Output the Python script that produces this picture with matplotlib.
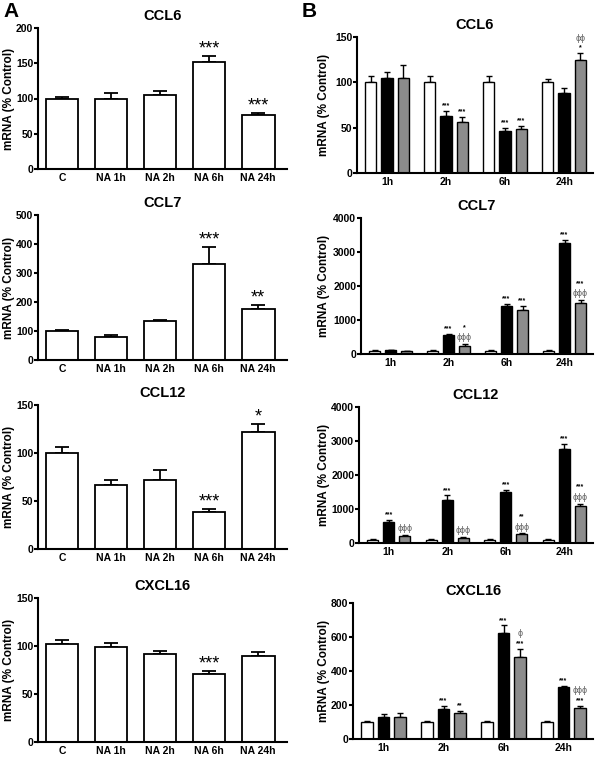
import numpy as np
import matplotlib
matplotlib.use('Agg')
import matplotlib.pyplot as plt

plt.rcParams['font.family'] = ['Liberation Sans', 'DejaVu Sans']
plt.rcParams['font.weight'] = 'bold'

# panel A: NA time course
a_labels = ['C', 'NA 1h', 'NA 2h', 'NA 6h', 'NA 24h']
a_titles = ['CCL6', 'CCL7', 'CCL12', 'CXCL16']
a_means = [[100, 99, 105, 152, 77],
           [100, 78, 133, 330, 177],
           [100, 67, 72, 39, 122],
           [102, 99, 92, 71, 90]]
a_errs = [[2, 9, 6, 8, 3],
          [5, 8, 4, 60, 13],
          [6, 5, 10, 3, 8],
          [4, 4, 3, 3, 4]]
a_stars = [['', '', '', '***', '***'],
           ['', '', '', '***', '**'],
           ['', '', '', '***', '*'],
           ['', '', '', '***', '']]
a_ymax = [200, 500, 150, 150]
a_ystep = [50, 100, 50, 50]

# panel B: three series per time point
b_labels = ['1h', '2h', '6h', '24h']
b_titles = ['CCL6', 'CCL7', 'CCL12', 'CXCL16']
b_white = [[100, 100, 100, 100], [100, 100, 100, 100],
           [100, 100, 100, 100], [100, 100, 100, 100]]
b_white_err = [[7, 7, 7, 4], [10, 10, 10, 10], [15, 15, 15, 15], [8, 6, 5, 8]]
b_black = [[105, 63, 46, 88], [110, 550, 1420, 3260],
           [630, 1255, 1500, 2765], [132, 175, 623, 305]]
b_black_err = [[6, 5, 4, 6], [20, 50, 50, 100],
               [60, 145, 70, 145], [13, 18, 45, 9]]
b_gray = [[105, 56, 48, 125], [75, 235, 1280, 1490],
          [196, 157, 275, 1100], [132, 153, 481, 185]]
b_gray_err = [[14, 6, 4, 7], [10, 60, 135, 100],
              [50, 28, 15, 60], [19, 12, 49, 11]]
b_black_ann = [['', '***', '***', ''], ['', '***', '***', '***'],
               ['***', '***', '***', '***'], ['', '***', '***', '***']]
b_gray_star = [['', '***', '***', '*'], ['', '*', '***', '***'],
               ['', '', '**', '***'], ['', '**', '***', '***']]
b_gray_phi = [['', '', '', 'ϕϕ'], ['', 'ϕϕϕ', '', 'ϕϕϕ'],
              ['ϕϕϕ', 'ϕϕϕ', 'ϕϕϕ', 'ϕϕϕ'], ['', '', 'ϕ', 'ϕϕϕ']]
# phi drawn above the stars (True) or below them (False)
b_phi_on_top = [True, False, False, True]
b_ymax = [150, 4000, 4000, 800]
b_ystep = [50, 1000, 1000, 200]

W, H = 600, 757
fig = plt.figure(figsize=(6, 7.57), dpi=100)


def box(x0, x1, y0, y1):
    return [x0 / W, 1 - y1 / H, (x1 - x0) / W, (y1 - y0) / H]


def style(ax, ymax, ystep, title, x0, x1, label_x):
    for s in ['top', 'right']:
        ax.spines[s].set_visible(False)
    for s in ['left', 'bottom']:
        ax.spines[s].set_linewidth(1.5)
    ax.set_ylim(0, ymax)
    ax.set_yticks(np.arange(0, ymax + 1, ystep))
    ax.tick_params(axis='y', length=3, width=1.5, labelsize=7.5, pad=0.5)
    ax.tick_params(axis='x', length=0, labelsize=7.5, pad=3)
    for lab in ax.get_yticklabels() + ax.get_xticklabels():
        lab.set_fontweight('bold')
    ax.set_title(title, fontsize=10.5, fontweight='bold', pad=6)
    ax.set_ylabel('mRNA (% Control)', fontsize=8.5, fontweight='bold')
    ax.yaxis.set_label_coords((label_x - x0) / (x1 - x0), 0.5)


a_rows = [(28, 169), (215, 360), (405, 549), (598, 742)]
for i in range(4):
    ax = fig.add_axes(box(38, 287, *a_rows[i]))
    x = np.arange(len(a_labels))
    ax.bar(x, a_means[i], width=0.67, color='white', edgecolor='black',
           linewidth=1.3, zorder=2)
    ax.errorbar(x, a_means[i], yerr=[np.zeros(5), a_errs[i]], fmt='none',
                ecolor='black', elinewidth=1.3, capsize=5, capthick=1.3, zorder=1)
    for j in range(5):
        if a_stars[i][j]:
            ax.text(x[j], a_means[i][j] + a_errs[i][j] - a_ymax[i] * 0.01,
                    a_stars[i][j], ha='center', va='bottom', fontsize=13,
                    fontweight='normal')
    ax.set_xlim(-0.49, 4.59)
    ax.set_xticks(x)
    ax.set_xticklabels(a_labels)
    style(ax, a_ymax[i], a_ystep[i], a_titles[i], 38, 287, 15)

b_rows = [(37, 173), (218, 354), (407, 543), (603, 739)]
b_left = [357, 361, 359, 353]
wb = 0.19
off = 0.275
for i in range(4):
    ax = fig.add_axes(box(b_left[i], 593, *b_rows[i]))
    x = np.arange(len(b_labels))
    z = np.zeros(4)
    series = [(b_white[i], b_white_err[i], 'white', -off),
              (b_black[i], b_black_err[i], 'black', 0),
              (b_gray[i], b_gray_err[i], '#8c8c8c', off)]
    for vals, errs, col, dx in series:
        ax.bar(x + dx, vals, width=wb, color=col, edgecolor='black',
               linewidth=1.0, zorder=2)
        ax.errorbar(x + dx, vals, yerr=[z, errs], fmt='none', ecolor='black',
                    elinewidth=1.0, capsize=2.5, capthick=1.0, zorder=1)
    ys = b_ymax[i] * 0.012
    for j in range(4):
        if b_black_ann[i][j]:
            ax.text(x[j], b_black[i][j] + b_black_err[i][j] + ys,
                    b_black_ann[i][j], ha='center', va='bottom', fontsize=5)
        top = b_gray[i][j] + b_gray_err[i][j] + ys
        star = b_gray_star[i][j]
        phi = b_gray_phi[i][j]
        order = [(phi, '#666666', 6.5), (star, 'black', 5)]
        if b_phi_on_top[i]:
            order = order[::-1]
        for txt, col, fs in order:
            if txt:
                ax.text(x[j] + off, top, txt, ha='center', va='bottom',
                        fontsize=fs, color=col, fontweight='normal' if col != 'black' else 'bold')
                top += b_ymax[i] * (0.065 if col == 'black' else 0.085)
    ax.set_xlim(-0.51, 3.49)
    ax.set_xticks(x)
    ax.set_xticklabels(b_labels)
    style(ax, b_ymax[i], b_ystep[i], b_titles[i], b_left[i], 593, 330)

fig.text(3 / W, 1 - 2 / H, 'A', fontsize=15, fontweight='bold', va='top')
fig.text(302 / W, 1 - 2 / H, 'B', fontsize=15, fontweight='bold', va='top')

fig.savefig('out.png', dpi=100)
